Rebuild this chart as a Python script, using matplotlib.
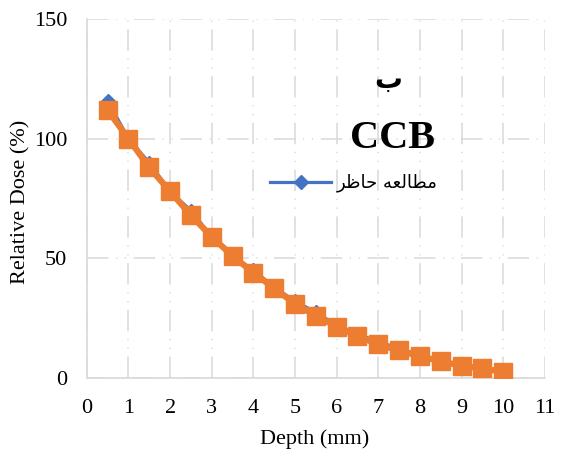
import matplotlib
matplotlib.use("Agg")
import matplotlib.pyplot as plt

depth = [0.5, 1, 1.5, 2, 2.5, 3, 3.5, 4, 4.5, 5, 5.5, 6, 6.5, 7, 7.5, 8, 8.5, 9, 9.5, 10]
dose_present = [116, 100, 90, 78, 70, 59, 51, 45, 38, 32, 27.5, 22, 18.5, 15, 12.5, 9.5, 7.5, 5.5, 4, 3]
dose_ref = [112, 100, 88, 78, 68, 59, 51, 44, 37.5, 31, 26, 21.5, 17.5, 14, 11.5, 9, 7, 5, 4, 2.5]
x_ticks = list(range(0, 12))
y_ticks = [0, 50, 100, 150]

# Persian label in visual order with presentation forms (matplotlib has no shaping)
legend_label = "\uFEAE\uFEC7\uFE8E\uFEA3 \uFEEA\uFECC\uFEDF\uFE8E\uFEC4\uFEE3"
panel_letter = "\u0628"

serif = ["Liberation Serif", "DejaVu Serif"]

fig = plt.figure(figsize=(5.64, 4.57), dpi=100)
ax = fig.add_axes([0.154, 0.173, 0.812, 0.785])

ax.plot(depth, dose_present, color="#4472C4", lw=2.3, marker="D", markersize=7,
        label=legend_label, zorder=3)
ax.plot(depth, dose_ref, color="#ED7D31", lw=4.5, marker="s", markersize=13,
        zorder=4)

ax.set_xlim(0, 11)
ax.set_ylim(0, 150)
ax.set_xticks(x_ticks)
ax.set_yticks(y_ticks)
ax.tick_params(length=0, labelsize=16)
ax.tick_params(axis="x", pad=15)
ax.tick_params(axis="y", pad=14)
for lab in ax.get_xticklabels() + ax.get_yticklabels():
    lab.set_fontfamily(serif)

grid_style = (0, (14, 5, 0.8, 5, 0.8, 5))
ax.grid(True, color="#d9d9d9", lw=1.1, linestyle=grid_style, zorder=0)
ax.set_axisbelow(True)

for s in ["top", "right"]:
    ax.spines[s].set_visible(False)
for s in ["left", "bottom"]:
    ax.spines[s].set_color("#d9d9d9")
    ax.spines[s].set_linewidth(1.2)

ax.set_xlabel("Depth (mm)", fontsize=16, family=serif)
ax.set_ylabel("Relative Dose (%)", fontsize=16, family=serif)
ax.xaxis.set_label_coords(0.498, -0.143)
ax.yaxis.set_label_coords(-0.122, 0.49)

ax.text(0.659, 0.83, panel_letter, transform=ax.transAxes, fontsize=20,
        fontweight="bold", family=["DejaVu Sans"], ha="center", va="center")
ax.text(0.668, 0.668, "CCB", transform=ax.transAxes, fontsize=29,
        fontweight="bold", family=serif, ha="center", va="center")

leg = ax.legend(loc="center", bbox_to_anchor=(0.583, 0.543), frameon=False,
                handlelength=3.4, handletextpad=0.3,
                prop={"family": ["DejaVu Sans"], "size": 13})

fig.savefig("out.png", dpi=100)
